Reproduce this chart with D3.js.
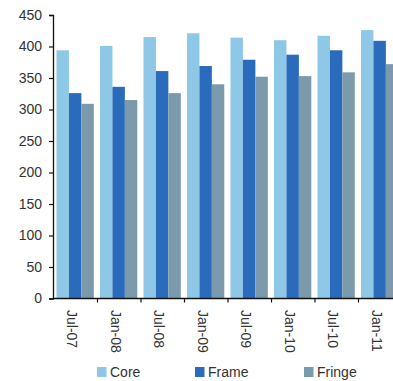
<!DOCTYPE html>
<html><head><meta charset="utf-8">
<script src="https://cdn.jsdelivr.net/npm/d3@7"></script>
<style>body{margin:0;background:#fff}svg{display:block}text{font-family:"Liberation Sans",Arial,sans-serif;fill:#333}</style>
</head><body><svg id="c" width="393" height="381"></svg>
<script>
const categories = ["Jul-07","Jan-08","Jul-08","Jan-09","Jul-09","Jan-10","Jul-10","Jan-11"];
const seriesNames = ["Core","Frame","Fringe"];
const core   = [394, 401, 415, 421, 414, 410, 417, 426];
const frame  = [326, 336, 361, 369, 379, 387, 394, 409];
const fringe = [309, 315, 326, 340, 352, 353, 359, 372];
const yTicks = [0,50,100,150,200,250,300,350,400,450];
const colors = ["#8EC8E6","#2A6CBB","#7B9AAB"];

const series = [core, frame, fringe];
const svg = d3.select("#c");
const x0 = 54, x1 = 402, yTop = 15, yBot = 298.5;
const x = d3.scaleBand().domain(categories).range([x0, x1]).paddingInner(0).paddingOuter(0);
const xs = d3.scaleBand().domain(seriesNames).range([2.5, x.bandwidth() - 3.7]).padding(0);
const y = d3.scaleLinear().domain([0, 450]).range([yBot, yTop]);

const g = svg.append("g");
categories.forEach((c, i) => {
  seriesNames.forEach((s, j) => {
    g.append("rect")
      .attr("x", x(c) + xs(s))
      .attr("y", y(series[j][i]))
      .attr("width", xs.bandwidth())
      .attr("height", yBot - y(series[j][i]))
      .attr("fill", colors[j]);
  });
});

// y axis
const ya = svg.append("g").attr("transform", `translate(${x0 - 1},0)`)
  .call(d3.axisLeft(y).tickValues(yTicks).tickSize(4).tickPadding(7));
ya.select(".domain").attr("stroke", "#111").attr("stroke-width", 1.3);
ya.selectAll(".tick line").attr("stroke", "#111").attr("stroke-width", 1.2);
ya.selectAll("text").attr("font-size", 14).style("fill", "#333")
  .attr("font-family", '"Liberation Sans",Arial,sans-serif');

// x axis line
const xa = svg.append("g").attr("transform", `translate(0,${yBot})`)
  .call(d3.axisBottom(x).tickSize(0).tickFormat(""));
xa.select(".domain").remove();
svg.append("line").attr("x1", x0 - 1).attr("x2", x1).attr("y1", yBot).attr("y2", yBot)
  .attr("stroke", "#111").attr("stroke-width", 1.3);
// boundary ticks
categories.forEach((c, i) => {
  if (i === 0) return;
  svg.append("line").attr("x1", x(c)).attr("x2", x(c)).attr("y1", yBot).attr("y2", yBot + 4)
    .attr("stroke", "#111").attr("stroke-width", 1.2);
});
// rotated labels
categories.forEach(c => {
  const cx = x(c) + x.bandwidth() / 2 - 3.5;
  svg.append("text").attr("transform", `translate(${cx},${310}) rotate(90)`)
    .attr("text-anchor", "start").attr("dominant-baseline", "central")
    .attr("font-size", 14).text(c);
});

// legend
const legX = [97, 195, 304];
seriesNames.forEach((s, j) => {
  svg.append("rect").attr("x", legX[j]).attr("y", 367).attr("width", 9.5).attr("height", 10).attr("fill", colors[j]);
  svg.append("text").attr("x", legX[j] + 13).attr("y", 377).attr("font-size", 14).text(s);
});
</script></body></html>
